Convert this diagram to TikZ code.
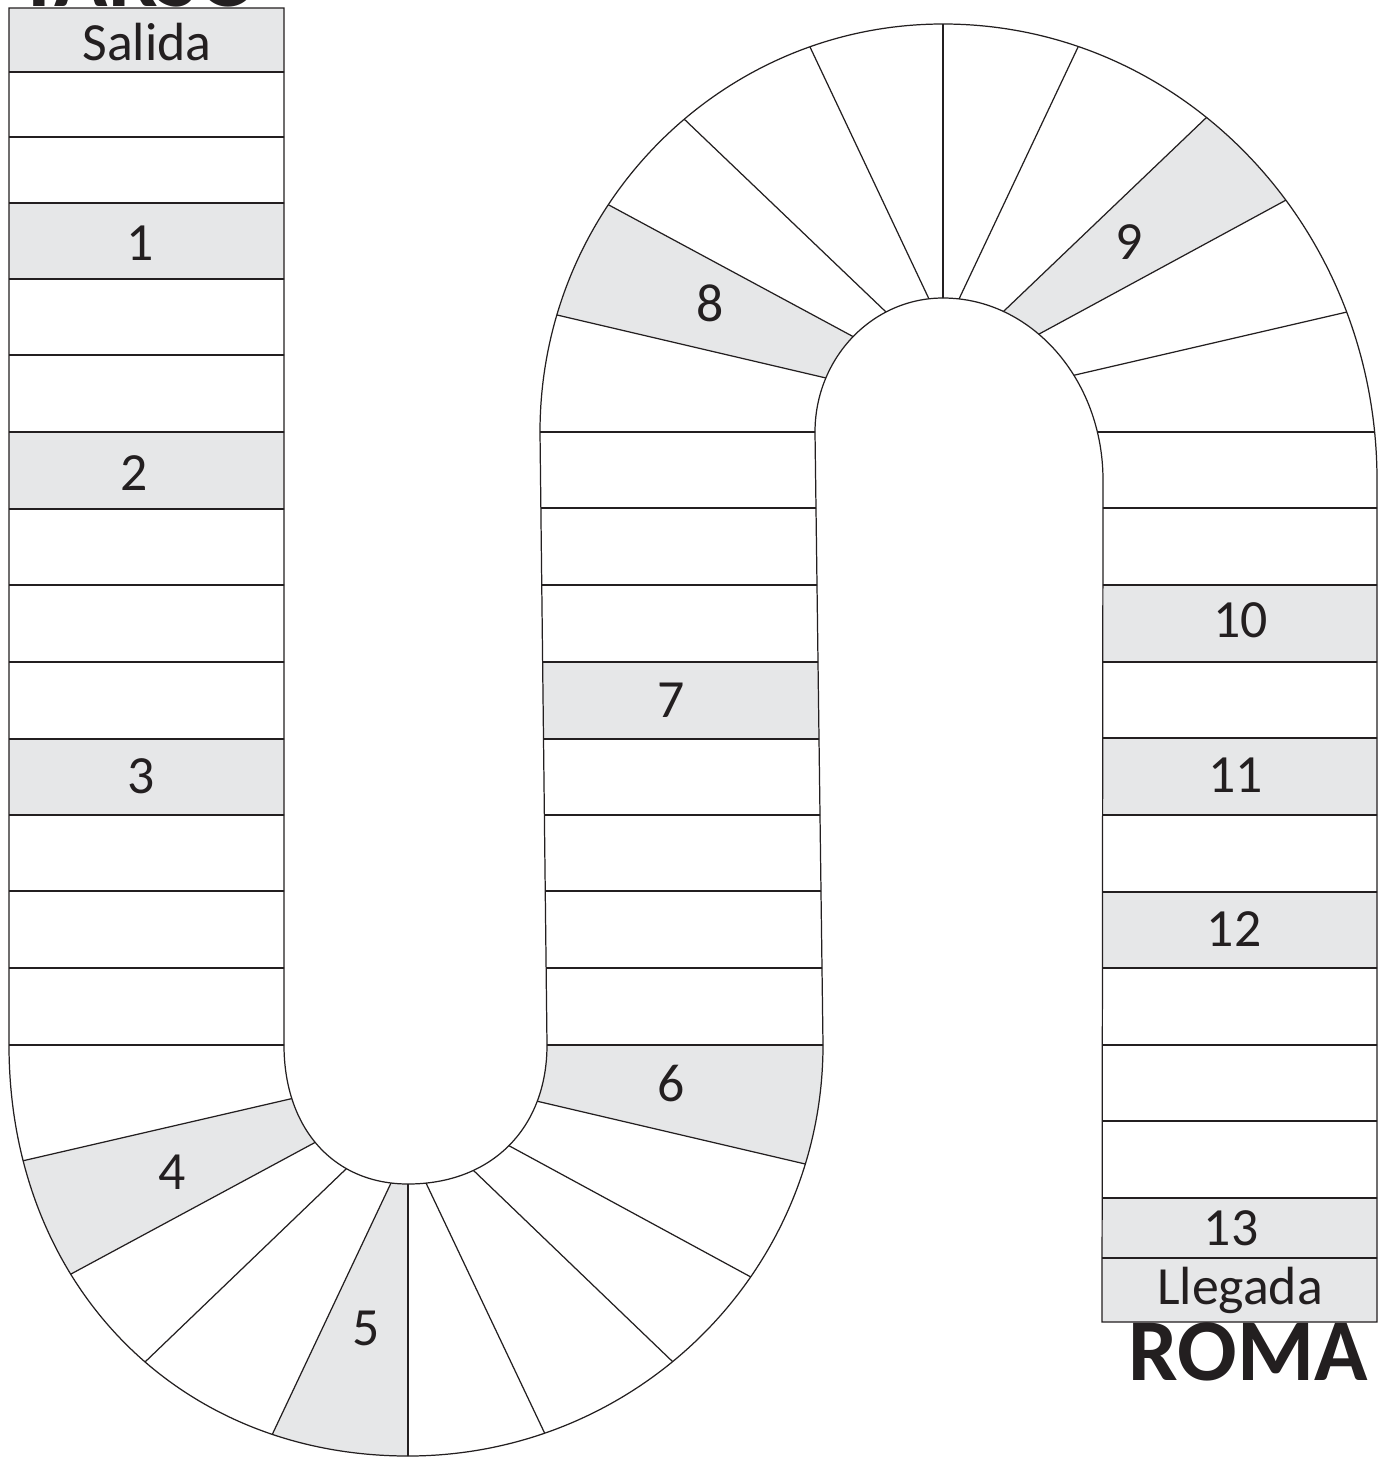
\documentclass[tikz,border=0pt]{standalone}
\usepackage{fontspec}
\setmainfont{Carlito}
\usetikzlibrary{calc}
\definecolor{ink}{HTML}{231F20}
\definecolor{cellgray}{HTML}{E6E7E8}
\begin{document}
\begin{tikzpicture}[x=0.02cm,y=-0.02cm,
  edge/.style={draw=ink,line width=0.7pt},
  shade/.style={fill=cellgray},
  lbl/.style={anchor=base,inner sep=0pt,text=ink,font=\fontsize{30.6pt}{36pt}\selectfont},
  city/.style={anchor=base,inner sep=0pt,text=ink,font=\fontsize{50.2pt}{60pt}\selectfont\bfseries}]
\useasboundingbox (0,0) rectangle (1387,1457);
\fill[white] (0,0) rectangle (1387,1457);
\def\trackpath{(9,8) -- (284,8) -- (284,1045)
  .. controls (284,1128.4) and (333.6,1184) .. (408,1184)
  .. controls (491.4,1184) and (547,1128.4) .. (547,1045)
  -- (540,432)
  .. controls (540,206.7) and (720.4,24) .. (943,24)
  .. controls (1183.3,24) and (1377,228.2) .. (1377,480)
  -- (1377,1322) -- (1102,1322) -- (1103,480)
  .. controls (1103,379.5) and (1031.4,298) .. (943,298)
  .. controls (872.3,298) and (815,358) .. (815,432)
  -- (823,1045)
  .. controls (823,1272) and (637.2,1456) .. (408,1456)
  .. controls (176.6,1456) and (9,1283.4) .. (9,1045)
  -- cycle}
% divider end points (inner / outer)
\coordinate (Ai) at (290,1099); \coordinate (Ao) at (22,1161);
\coordinate (Bi) at (314,1143); \coordinate (Bo) at (71,1274);
\coordinate (Ci) at (346,1169); \coordinate (Co) at (145,1362);
\coordinate (Di) at (391,1183); \coordinate (Do) at (272,1435);
\coordinate (Ei) at (408,1120); \coordinate (Eo) at (408,1520);
\coordinate (Fi) at (426,1183); \coordinate (Fo) at (546,1436);
\coordinate (Gi) at (472,1169); \coordinate (Go) at (673,1362);
\coordinate (Hi) at (504,1143); \coordinate (Ho) at (749,1276);
\coordinate (Ii) at (532,1100); \coordinate (Io) at (801,1163);
\coordinate (ai) at (826,378); \coordinate (ao) at (557,315);
\coordinate (bi) at (852,336); \coordinate (bo) at (607,204);
\coordinate (ci) at (886,312); \coordinate (co) at (683,118);
\coordinate (di) at (929,299); \coordinate (do) at (810,47);
\coordinate (ei) at (943,330); \coordinate (eo) at (943,-10);
\coordinate (fi) at (959,299); \coordinate (fo) at (1079,45);
\coordinate (gi) at (1005,310); \coordinate (go) at (1208,116);
\coordinate (hi) at (1041,333); \coordinate (ho) at (1288,199);
\coordinate (ii) at (1075,375); \coordinate (io) at (1347,312);
\begin{scope}
  \clip \trackpath;
  % grey cells, straight parts
  \fill[shade] (-10,0) rectangle (300,72);
  \fill[shade] (-10,203) rectangle (300,279);
  \fill[shade] (-10,432) rectangle (300,509);
  \fill[shade] (-10,739) rectangle (300,815);
  \fill[shade] (500,662) rectangle (860,739);
  \fill[shade] (1060,585) rectangle (1400,662);
  \fill[shade] (1060,738) rectangle (1400,815);
  \fill[shade] (1060,892) rectangle (1400,968);
  \fill[shade] (1060,1198) rectangle (1400,1340);
  % grey cells, bends
  \fill[shade] ($(Ai)!-0.1!(Ao)$) -- ($(Ai)!1.2!(Ao)$) -- ($(Bi)!1.2!(Bo)$) -- ($(Bi)!-0.1!(Bo)$) -- cycle;
  \fill[shade] ($(Di)!-0.1!(Do)$) -- ($(Di)!1.2!(Do)$) -- (Eo) -- (408,1150) -- cycle;
  \fill[shade] (500,1045) -- (870,1045) -- ($(Ii)!1.2!(Io)$) -- ($(Ii)!-0.2!(Io)$) -- cycle;
  \fill[shade] ($(ai)!-0.1!(ao)$) -- ($(ai)!1.2!(ao)$) -- ($(bi)!1.2!(bo)$) -- ($(bi)!-0.1!(bo)$) -- cycle;
  \fill[shade] ($(gi)!-0.1!(go)$) -- ($(gi)!1.2!(go)$) -- ($(hi)!1.2!(ho)$) -- ($(hi)!-0.1!(ho)$) -- cycle;
  % straight dividers
  \foreach \y in {72,137,203,279,355,432,509,585,662,739,815,891,968,1045}
    \draw[edge] (-10,\y) -- (300,\y);
  \foreach \y in {432,508,585,662,739,815,891,968,1045}
    \draw[edge] (500,\y) -- (860,\y);
  \foreach \y in {432,508,585,662,738,815,892,968,1045,1121,1198,1258}
    \draw[edge] (1060,\y) -- (1400,\y);
  % bend dividers
  \foreach \p in {A,B,C,D,E,F,G,H,I,a,b,c,d,e,f,g,h,i}
    \draw[edge] ($(\p i)!-0.15!(\p o)$) -- ($(\p i)!1.15!(\p o)$);
\end{scope}
\draw[edge] \trackpath;
% labels
\node[city] (tarso) at (138,7) {TARSO};
\node[lbl] (salida) at (147,60) {Salida};
\node[lbl] (n1) at (140,260) {1};
\node[lbl] (n2) at (134,490) {2};
\node[lbl] (n3) at (141.5,793) {3};
\node[lbl] (n4) at (172,1189) {4};
\node[lbl] (n5) at (366,1345) {5};
\node[lbl] (n6) at (671,1101) {6};
\node[lbl] (n7) at (671,717) {7};
\node[lbl] (n8) at (710,321) {8};
\node[lbl] (n9) at (1129,259) {9};
\node[lbl] (n10) at (1240.5,637) {10};
\node[lbl] (n11) at (1235.5,792) {11};
\node[lbl] (n12) at (1234,946) {12};
\node[lbl] (n13) at (1231,1245) {13};
\node[lbl] (llegada) at (1240,1304) {Llegada};
\node[city] (roma) at (1248,1380) {ROMA};
\end{tikzpicture}
\end{document}
